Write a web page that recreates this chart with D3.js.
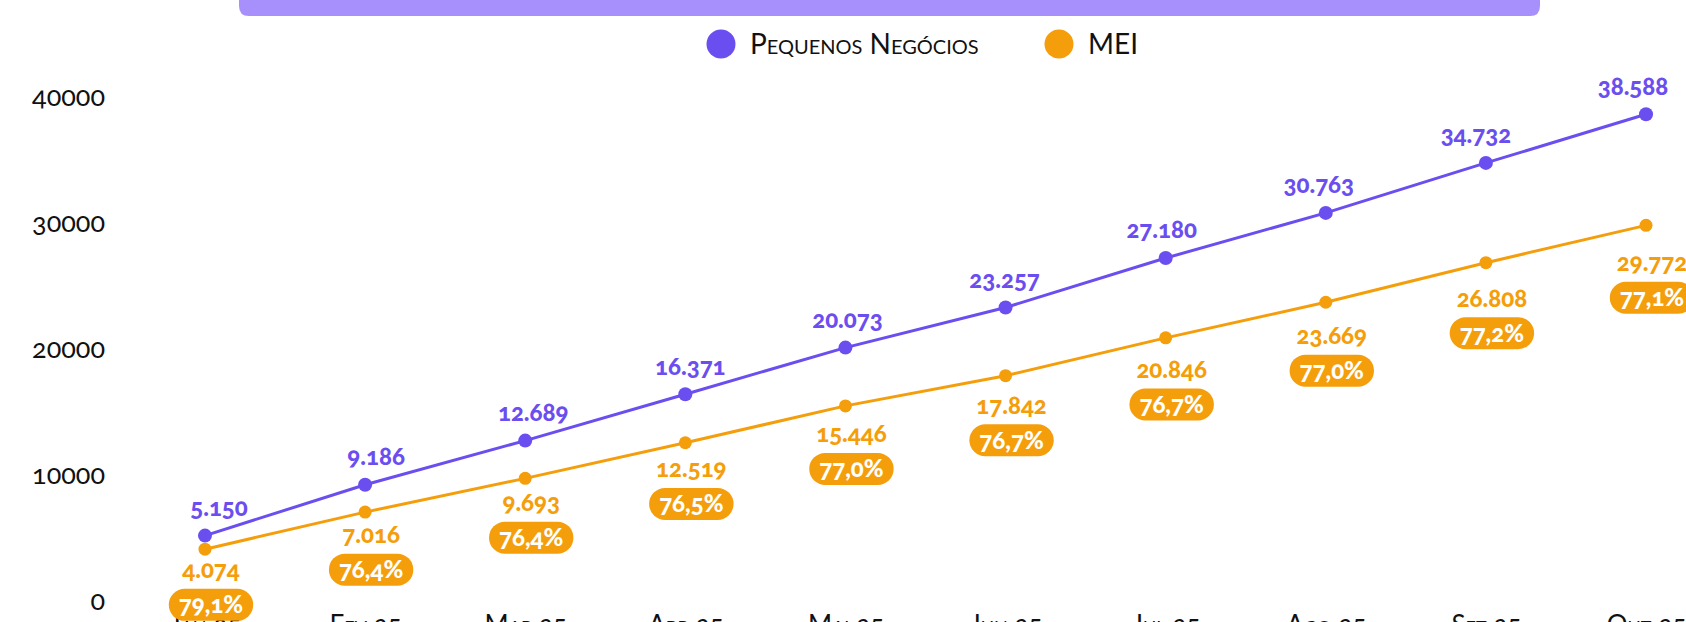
<!DOCTYPE html>
<html>
<head>
<meta charset="utf-8">
<script src="https://cdn.jsdelivr.net/npm/d3@7"></script>
<style>
  html, body { margin: 0; padding: 0; background: #fff; overflow: hidden; }
  svg { display: block; }
  text { font-family: Lato, "Open Sans", sans-serif; font-feature-settings: "onum" 1; }
  .sc { font-variant-caps: small-caps; }
</style>
</head>
<body>
<svg id="chart" width="1686" height="622"></svg>
<script>
const months = ["Jan 25","Fev 25","Mar 25","Abr 25","Mai 25","Jun 25","Jul 25","Ago 25","Set 25","Out 25"];
const pequenos = [5150, 9186, 12689, 16371, 20073, 23257, 27180, 30763, 34732, 38588];
const mei = [4074, 7016, 9693, 12519, 15446, 17842, 20846, 23669, 26808, 29772];
const meiShare = ["79,1%","76,4%","76,4%","76,5%","77,0%","76,7%","76,7%","77,0%","77,2%","77,1%"];
const yTicks = [0, 10000, 20000, 30000, 40000];
const seriesNames = ["Pequenos Negócios", "MEI"];

const PURPLE = "#6b4ef0", ORANGE = "#f59e0b", BAR = "#a78ffc";
const svg = d3.select("#chart");

const x = d3.scalePoint().domain(months).range([205, 1646]);
const y = d3.scaleLinear().domain([0, 40000]).range([600.5, 96.5]);
// label layout scales
const xLab = d3.scalePoint().domain(months).range([219, 1633]);
const meiLabOffset = d3.scaleLinear().domain([0, 40000]).range([18, 44]);

// top bar
const barPath = (() => {
  const x0 = 239, x1 = 1540, y1 = 16, r = 10;
  return `M${x0},0 H${x1} V${y1 - r} Q${x1},${y1} ${x1 - r},${y1} H${x0 + r} Q${x0},${y1} ${x0},${y1 - r} Z`;
})();
svg.append("path").attr("d", barPath).attr("fill", BAR);

// legend
const legend = svg.append("g");
const legItems = [
  {name: seriesNames[0], color: PURPLE, cx: 721},
  {name: seriesNames[1], color: ORANGE, cx: 1059}
];
legItems.forEach(d => {
  legend.append("circle").attr("cx", d.cx).attr("cy", 44).attr("r", 14.5).attr("fill", d.color);
  legend.append("text").attr("class", "sc").attr("x", d.cx + 29).attr("y", 44).attr("dy", "0.35em")
    .attr("font-size", 28).attr("fill", "#111")
    .text(d.name);
});

// y axis
const yAxis = svg.append("g").attr("transform", "translate(113,0)")
  .call(d3.axisLeft(y).tickValues(yTicks).tickFormat(d => String(d)).tickSize(0).tickPadding(8));
yAxis.select(".domain").remove();
yAxis.selectAll("text").attr("font-size", 27).attr("fill", "#111")
  .style("font-family", "Lato, sans-serif").style("font-feature-settings", '"onum" 1');

// x axis
const xAxis = svg.append("g").attr("transform", "translate(0,600.5)")
  .call(d3.axisBottom(x).tickSize(0).tickPadding(15));
xAxis.select(".domain").remove();
xAxis.selectAll("text").attr("class", "sc").attr("font-size", 26).attr("fill", "#111")
  .style("font-family", "Lato, sans-serif");

// lines
const line = d3.line().x((d, i) => x(months[i])).y(d => y(d));
svg.append("path").datum(mei).attr("d", line).attr("fill", "none").attr("stroke", ORANGE).attr("stroke-width", 3);
svg.append("path").datum(pequenos).attr("d", line).attr("fill", "none").attr("stroke", PURPLE).attr("stroke-width", 3);

svg.append("g").selectAll("circle").data(mei).join("circle")
  .attr("cx", (d, i) => x(months[i])).attr("cy", d => y(d)).attr("r", 6.5).attr("fill", ORANGE);
svg.append("g").selectAll("circle").data(pequenos).join("circle")
  .attr("cx", (d, i) => x(months[i])).attr("cy", d => y(d)).attr("r", 7).attr("fill", PURPLE);

const fmt = v => d3.format(",")(v).replace(/,/g, ".");

// purple labels
svg.append("g").selectAll("text").data(pequenos).join("text")
  .attr("x", (d, i) => xLab(months[i])).attr("y", d => y(d) - 28)
  .attr("dy", "0.35em").attr("text-anchor", "middle")
  .attr("font-size", 24).attr("font-weight", 900).attr("fill", PURPLE)
  .text(fmt);

// mei labels
const meiG = svg.append("g");
mei.forEach((v, i) => {
  const cx = x(months[i]) + 6;
  const ly = y(v) + meiLabOffset(v);
  meiG.append("text").attr("x", cx).attr("y", ly).attr("dy", "0.35em").attr("text-anchor", "middle")
    .attr("font-size", 24).attr("font-weight", 900).attr("fill", ORANGE).text(fmt(v));
  const by = ly + 35;
  const g = meiG.append("g");
  const t = g.append("text").attr("x", cx).attr("y", by).attr("dy", "0.35em").attr("text-anchor", "middle")
    .attr("font-size", 24).attr("font-weight", 900).attr("fill", "#fff").text(meiShare[i]);
  const bw = t.node().getComputedTextLength() + 20;
  g.insert("rect", "text").attr("x", cx - bw / 2).attr("y", by - 16).attr("width", bw).attr("height", 32)
    .attr("rx", 16).attr("fill", ORANGE);
});
</script>
</body>
</html>
